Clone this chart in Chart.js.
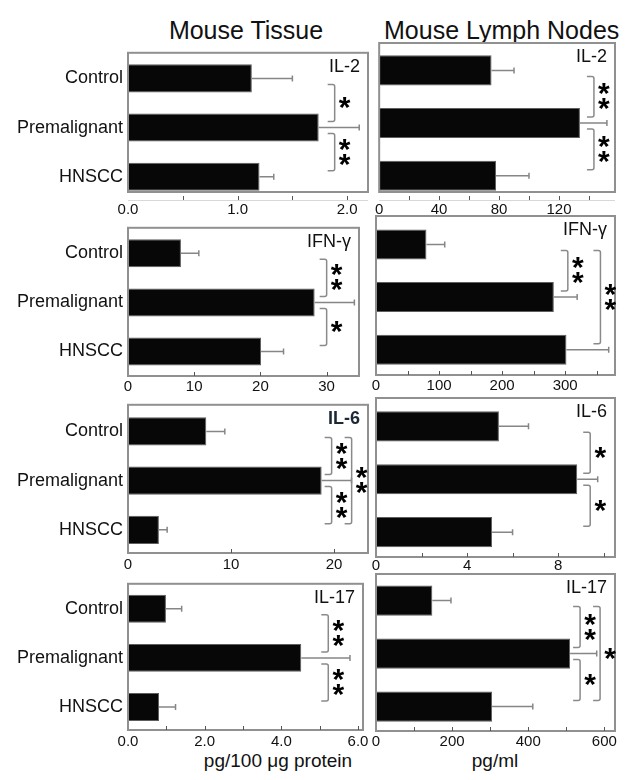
<!DOCTYPE html>
<html>
<head>
<meta charset="utf-8">
<script src="https://cdn.jsdelivr.net/npm/chart.js@4.4.1/dist/chart.umd.min.js"></script>
<style>
html,body{margin:0;padding:0;background:#fff;}
body{width:634px;height:780px;position:relative;overflow:hidden;font-family:'Liberation Sans',Arial,sans-serif;}
canvas{position:absolute;}
.t{position:absolute;white-space:nowrap;color:#111;text-align:center;line-height:1;}
</style>
</head>
<body>
<div class="t" style="left:146px;width:200px;top:18px;font-size:25px;">Mouse Tissue</div>
<div class="t" style="left:384px;width:220px;top:18px;font-size:25px;">Mouse Lymph Nodes</div>
<div class="t" style="left:178px;width:200px;top:751px;font-size:19px;">pg/100 μg protein</div>
<div class="t" style="left:445px;width:100px;top:751px;font-size:19px;">pg/ml</div>

<script>
// ---------------- DATA ----------------
const categories = ['Control', 'Premalignant', 'HNSCC'];

const tissueIL2 = [1.13, 1.74, 1.20];
const tissueIL2Err = [0.37, 0.37, 0.13];
const nodesIL2 = [75, 134, 78];
const nodesIL2Err = [15, 18, 22];

const tissueIFNg = [8.0, 28.2, 20.1];
const tissueIFNgErr = [2.7, 6.0, 3.4];
const nodesIFNg = [80, 282, 302];
const nodesIFNgErr = [29, 37, 67];

const tissueIL6 = [7.6, 18.8, 3.0];
const tissueIL6Err = [1.8, 2.9, 0.8];
const nodesIL6 = [5.4, 8.84, 5.1];
const nodesIL6Err = [1.3, 0.9, 0.9];

const tissueIL17 = [0.99, 4.52, 0.81];
const tissueIL17Err = [0.41, 1.27, 0.43];
const nodesIL17 = [148, 510, 305];
const nodesIL17Err = [49, 70, 107];

// tick labels (major) and unlabeled minor ticks
const tissueIL2Ticks = [0, 1, 2];        const tissueIL2Minor = [0.5, 1.5];
const nodesIL2Ticks = [0, 40, 80, 120];  const nodesIL2Minor = [20, 60, 100, 140];
const tissueIFNgTicks = [0, 10, 20, 30]; const tissueIFNgMinor = [];
const nodesIFNgTicks = [0, 100, 200, 300]; const nodesIFNgMinor = [50, 150, 250, 350];
const tissueIL6Ticks = [0, 10, 20];      const tissueIL6Minor = [];
const nodesIL6Ticks = [0, 4, 8];         const nodesIL6Minor = [2, 6, 10];
const tissueIL17Ticks = [0, 2, 4, 6];    const tissueIL17Minor = [1, 3, 5];
const nodesIL17Ticks = [0, 200, 400, 600]; const nodesIL17Minor = [100, 300, 500];

// significance brackets: groups compared, stars, nesting level
const tissueIL2Sig = [{from:0,to:1,stars:'*',level:0},{from:1,to:2,stars:'**',level:0}];
const nodesIL2Sig = [{from:0,to:1,stars:'**',level:0},{from:1,to:2,stars:'**',level:0}];
const tissueIFNgSig = [{from:0,to:1,stars:'**',level:0},{from:1,to:2,stars:'*',level:0}];
const nodesIFNgSig = [{from:0,to:1,stars:'**',level:0},{from:0,to:2,stars:'**',level:1}];
const tissueIL6Sig = [{from:0,to:1,stars:'**',level:0},{from:1,to:2,stars:'**',level:0},{from:0,to:2,stars:'**',level:1}];
const nodesIL6Sig = [{from:0,to:1,stars:'*',level:0},{from:1,to:2,stars:'*',level:0}];
const tissueIL17Sig = [{from:0,to:1,stars:'**',level:0},{from:1,to:2,stars:'**',level:0}];
const nodesIL17Sig = [{from:0,to:1,stars:'**',level:0},{from:1,to:2,stars:'*',level:0},{from:0,to:2,stars:'*',level:1}];

// ---------------- LAYOUT / STYLE ----------------
const FONT = "'Liberation Sans', Arial, sans-serif";
const panels = [
  {col:0, top:43, bottom:192, right:368, ymin:-0.52, ymax:2.31, xmax:2.19, values:tissueIL2, errors:tissueIL2Err, ticks:tissueIL2Ticks, minor:tissueIL2Minor, dec:1, label:'IL-2', sig:tissueIL2Sig, gap:9, axisOffset:8, tickPad:9},
  {col:1, top:43, bottom:192, right:615, ymin:-0.52, ymax:2.31, xmax:157.4, values:nodesIL2, errors:nodesIL2Err, ticks:nodesIL2Ticks, minor:nodesIL2Minor, dec:0, label:'IL-2', sig:nodesIL2Sig, gap:7, axisOffset:8, tickPad:9},
  {col:0, top:218, bottom:376, right:359, ymin:-0.52, ymax:2.50, xmax:34.9, values:tissueIFNg, errors:tissueIFNgErr, ticks:tissueIFNgTicks, minor:tissueIFNgMinor, dec:0, label:'IFN-γ', sig:tissueIFNgSig, gap:5, axisOffset:0, tickPad:2},
  {col:1, top:216, bottom:375, right:615, ymin:-0.54, ymax:2.48, xmax:379, values:nodesIFNg, errors:nodesIFNgErr, ticks:nodesIFNgTicks, minor:nodesIFNgMinor, dec:0, label:'IFN-γ', sig:nodesIFNgSig, gap:7, axisOffset:0, tickPad:2},
  {col:0, top:395, bottom:553, right:368, ymin:-0.54, ymax:2.47, xmax:23.3, values:tissueIL6, errors:tissueIL6Err, ticks:tissueIL6Ticks, minor:tissueIL6Minor, dec:0, label:'IL-6', bold:true, sig:tissueIL6Sig, gap:3, axisOffset:0, tickPad:3},
  {col:1, top:398, bottom:557, right:615, ymin:-0.535, ymax:2.47, xmax:10.5, values:nodesIL6, errors:nodesIL6Err, ticks:nodesIL6Ticks, minor:nodesIL6Minor, dec:0, label:'IL-6', sig:nodesIL6Sig, gap:6, axisOffset:0, tickPad:0},
  {col:0, top:574, bottom:730, right:363, ymin:-0.51, ymax:2.47, xmax:6.13, values:tissueIL17, errors:tissueIL17Err, ticks:tissueIL17Ticks, minor:tissueIL17Minor, dec:1, label:'IL-17', sig:tissueIL17Sig, gap:20, axisOffset:0, tickPad:3},
  {col:1, top:574, bottom:731, right:615, ymin:-0.50, ymax:2.46, xmax:628, values:nodesIL17, errors:nodesIL17Err, ticks:nodesIL17Ticks, minor:nodesIL17Minor, dec:0, label:'IL-17', sig:nodesIL17Sig, gap:3, axisOffset:0, tickPad:2}
];

const LEFT_BOX = 128, RIGHT_BOX = 376, PAD_TOP = 6, AXIS_H = 30;

function makeOverlay(p) {
  return {
    id: 'overlay',
    afterDatasetsDraw(chart) {
      const ctx = chart.ctx, a = chart.chartArea;
      const xs = chart.scales.x, ys = chart.scales.y;
      ctx.save();
      // error bars
      ctx.strokeStyle = '#868686';
      ctx.lineWidth = 1.5;
      p.values.forEach((v, i) => {
        const y = ys.getPixelForValue(i);
        const x0 = xs.getPixelForValue(v), x1 = xs.getPixelForValue(v + p.errors[i]);
        ctx.beginPath();
        ctx.moveTo(x0, y); ctx.lineTo(x1, y);
        ctx.moveTo(x1, y - 3); ctx.lineTo(x1, y + 3);
        ctx.stroke();
      });
      // frame
      ctx.strokeStyle = '#909090';
      ctx.lineWidth = 2;
      ctx.strokeRect(a.left, a.top, a.right - a.left, a.bottom - a.top);
      // tick marks
      const ty = a.bottom + p.axisOffset;
      if (p.axisOffset) {
        ctx.strokeStyle = '#d8d8d8'; ctx.lineWidth = 1;
        ctx.beginPath(); ctx.moveTo(a.left, ty + 0.5); ctx.lineTo(a.right, ty + 0.5); ctx.stroke();
      }
      ctx.strokeStyle = '#555'; ctx.lineWidth = 1;
      ctx.beginPath();
      p.ticks.concat(p.minor).forEach(t => {
        const x = Math.round(xs.getPixelForValue(t)) + 0.5;
        if (x > a.left + 1 && x < a.right - 1) { ctx.moveTo(x, ty); ctx.lineTo(x, ty - 4); }
      });
      ctx.stroke();
      // significance brackets
      ctx.font = 'bold 30px ' + FONT;
      const m = ctx.measureText('*');
      const starShift = (m.actualBoundingBoxAscent - m.actualBoundingBoxDescent) / 2;
      p.sig.forEach(s => {
        const maxV = Math.max(...p.values.slice(s.from, s.to + 1));
        const xL = xs.getPixelForValue(maxV) + p.gap + s.level * 20;
        const xR = xL + 7;
        const y1 = ys.getPixelForValue(s.from) + 6, y2 = ys.getPixelForValue(s.to) - 6;
        ctx.strokeStyle = '#8a8a8a'; ctx.lineWidth = 1.5; ctx.lineJoin = 'round';
        ctx.beginPath();
        ctx.moveTo(xL, y1); ctx.lineTo(xR - 2, y1); ctx.quadraticCurveTo(xR, y1, xR, y1 + 2);
        ctx.lineTo(xR, y2 - 2); ctx.quadraticCurveTo(xR, y2, xR - 2, y2); ctx.lineTo(xL, y2);
        ctx.stroke();
        const n = s.stars.length, cy = (y1 + y2) / 2;
        ctx.fillStyle = '#000'; ctx.textAlign = 'center'; ctx.textBaseline = 'alphabetic';
        for (let k = 0; k < n; k++) {
          ctx.fillText('*', xR + 10, cy + (k - (n - 1) / 2) * 15 + starShift);
        }
      });
      // panel label
      ctx.font = (p.bold ? 'bold ' : '') + '18px ' + FONT;
      ctx.fillStyle = p.bold ? '#1c2836' : '#111';
      ctx.textAlign = 'right'; ctx.textBaseline = 'middle';
      ctx.fillText(p.label, a.right - 8, a.top + 14);
      ctx.restore();
    }
  };
}

panels.forEach(p => {
  const cv = document.createElement('canvas');
  const cLeft = p.col === 0 ? 0 : 366;
  const cWidth = p.col === 0 ? 372 : 268;
  const cTop = p.top - PAD_TOP;
  const cHeight = PAD_TOP + (p.bottom - p.top) + AXIS_H;
  cv.width = cWidth; cv.height = cHeight;
  cv.style.left = cLeft + 'px'; cv.style.top = cTop + 'px';
  document.body.appendChild(cv);
  new Chart(cv, {
    type: 'bar',
    data: {
      datasets: [{
        data: p.values.map((v, i) => ({x: v, y: i})),
        backgroundColor: '#070707',
        borderColor: '#5e5e5e',
        borderWidth: 1,
        barPercentage: 0.57,
        categoryPercentage: 1
      }]
    },
    options: {
      indexAxis: 'y',
      responsive: false,
      animation: false,
      events: [],
      layout: {padding: {top: PAD_TOP, bottom: 0, left: p.col === 0 ? 0 : RIGHT_BOX - cLeft, right: cLeft + cWidth - p.right}},
      plugins: {legend: {display: false}, tooltip: {enabled: false}},
      scales: {
        x: {
          type: 'linear', min: 0, max: p.xmax, offset: false,
          grid: {display: false, drawTicks: false}, border: {display: false},
          afterBuildTicks: s => { s.ticks = p.ticks.map(v => ({value: v})); },
          afterFit: s => { s.height = AXIS_H; },
          ticks: {padding: p.tickPad, color: '#111', font: {family: FONT, size: 15}, maxRotation: 0, autoSkip: false,
                  callback: v => Number(v).toFixed(p.dec)}
        },
        y: {
          type: 'linear', reverse: true, min: p.ymin, max: p.ymax, offset: false, display: p.col === 0,
          grid: {display: false, drawTicks: false, offset: false}, border: {display: false},
          afterBuildTicks: s => { s.ticks = categories.map((c, i) => ({value: i})); },
          afterFit: s => { if (p.col === 0) s.width = LEFT_BOX; else s.width = 0; },
          ticks: {padding: 5, color: '#111', font: {family: FONT, size: 18}, autoSkip: false,
                  callback: v => categories[v]}
        }
      }
    },
    plugins: [makeOverlay(p)]
  });
});
</script>
</body>
</html>
